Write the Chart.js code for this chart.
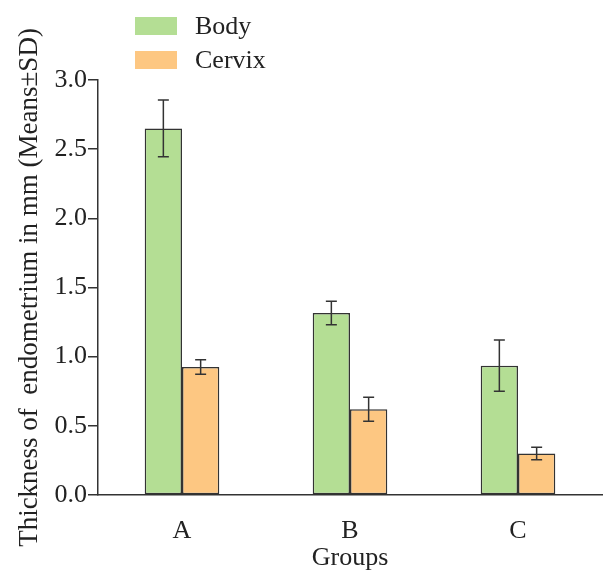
<!DOCTYPE html>
<html>
<head>
<meta charset="utf-8">
<style>
html,body{margin:0;padding:0;background:#fff;}
#wrap{width:604px;height:571px;position:relative;}
</style>
<script src="https://cdn.jsdelivr.net/npm/chart.js@4.4.1/dist/chart.umd.min.js"></script>
</head>
<body>
<div id="wrap"><canvas id="c" width="604" height="571"></canvas></div>
<script>
const categories = ['A', 'B', 'C'];
const seriesNames = ['Body', 'Cervix'];
const bodyMeans = [2.65, 1.315, 0.935];
const bodySD = [0.205, 0.085, 0.185];
const cervixMeans = [0.925, 0.62, 0.30];
const cervixSD = [0.052, 0.087, 0.045];
const yTicks = [0.0, 0.5, 1.0, 1.5, 2.0, 2.5, 3.0];

const FONT = '"Liberation Serif", "Times New Roman", serif';
const TXT = '#222';
const colors = ['#b4de94', '#fdc782'];
const sds = [bodySD, cervixSD];

const errorBars = {
  id: 'errorBars',
  afterDatasetsDraw(chart) {
    const ctx = chart.ctx;
    const y = chart.scales.y;
    ctx.save();
    ctx.strokeStyle = '#333';
    ctx.lineWidth = 1.5;
    chart.data.datasets.forEach((ds, di) => {
      const meta = chart.getDatasetMeta(di);
      meta.data.forEach((bar, i) => {
        const v = ds.data[i], sd = sds[di][i];
        const yt = y.getPixelForValue(v + sd);
        const yb = y.getPixelForValue(v - sd);
        const x = bar.x, hw = 5.5;
        ctx.beginPath();
        ctx.moveTo(x, yt); ctx.lineTo(x, yb);
        ctx.moveTo(x - hw, yt); ctx.lineTo(x + hw, yt);
        ctx.moveTo(x - hw, yb); ctx.lineTo(x + hw, yb);
        ctx.stroke();
      });
    });
    ctx.restore();
  }
};

const customLegend = {
  id: 'customLegend',
  afterDraw(chart) {
    const ctx = chart.ctx;
    ctx.save();
    ctx.font = '26px ' + FONT;
    ctx.textBaseline = 'middle';
    ctx.textAlign = 'left';
    chart.data.datasets.forEach((ds, i) => {
      const top = 17 + i * 34;
      ctx.fillStyle = ds.backgroundColor;
      ctx.fillRect(135, top, 42, 18);
      ctx.fillStyle = TXT;
      ctx.fillText(ds.label, 195, top + 10);
    });
    ctx.restore();
  }
};

new Chart(document.getElementById('c'), {
  type: 'bar',
  data: {
    labels: categories,
    datasets: [
      { label: seriesNames[0], data: bodyMeans, backgroundColor: colors[0], borderColor: '#333', borderWidth: 1.5, borderSkipped: false },
      { label: seriesNames[1], data: cervixMeans, backgroundColor: colors[1], borderColor: '#333', borderWidth: 1.5, borderSkipped: false }
    ]
  },
  options: {
    responsive: false,
    animation: false,
    devicePixelRatio: 1,
    layout: { padding: { top: 80, right: 2, left: 0, bottom: 0 } },
    datasets: { bar: { barPercentage: 1.0, categoryPercentage: 0.444 } },
    plugins: { legend: { display: false }, tooltip: { enabled: false } },
    scales: {
      x: {
        grid: { display: false, drawTicks: false },
        border: { display: true, color: '#333', width: 1.5 },
        ticks: { color: TXT, font: { family: FONT, size: 26, lineHeight: 1.0 }, padding: 23 },
        title: { display: true, text: 'Groups', color: TXT, font: { family: FONT, size: 26, lineHeight: 1.0 }, padding: { top: 0, bottom: 0 } },
        afterFit(s) { s.height = 76; }
      },
      y: {
        min: 0, max: 3.0,
        afterBuildTicks(s) { s.ticks = yTicks.map(v => ({ value: v })); },
        grid: { drawOnChartArea: false, color: '#333', lineWidth: 1.5, tickLength: 10 },
        border: { display: true, color: '#333', width: 1.5 },
        ticks: { color: TXT, font: { family: FONT, size: 26 }, padding: 1, callback: v => Number(v).toFixed(1) },
        title: { display: true, text: 'Thickness of  endometrium in mm (Means±SD)', color: TXT, font: { family: FONT, size: 27, lineHeight: 1.0 }, padding: { top: 16, bottom: 0 } },
        afterFit(s) { s.width = 98; }
      }
    }
  },
  plugins: [errorBars, customLegend]
});
</script>
</body>
</html>
